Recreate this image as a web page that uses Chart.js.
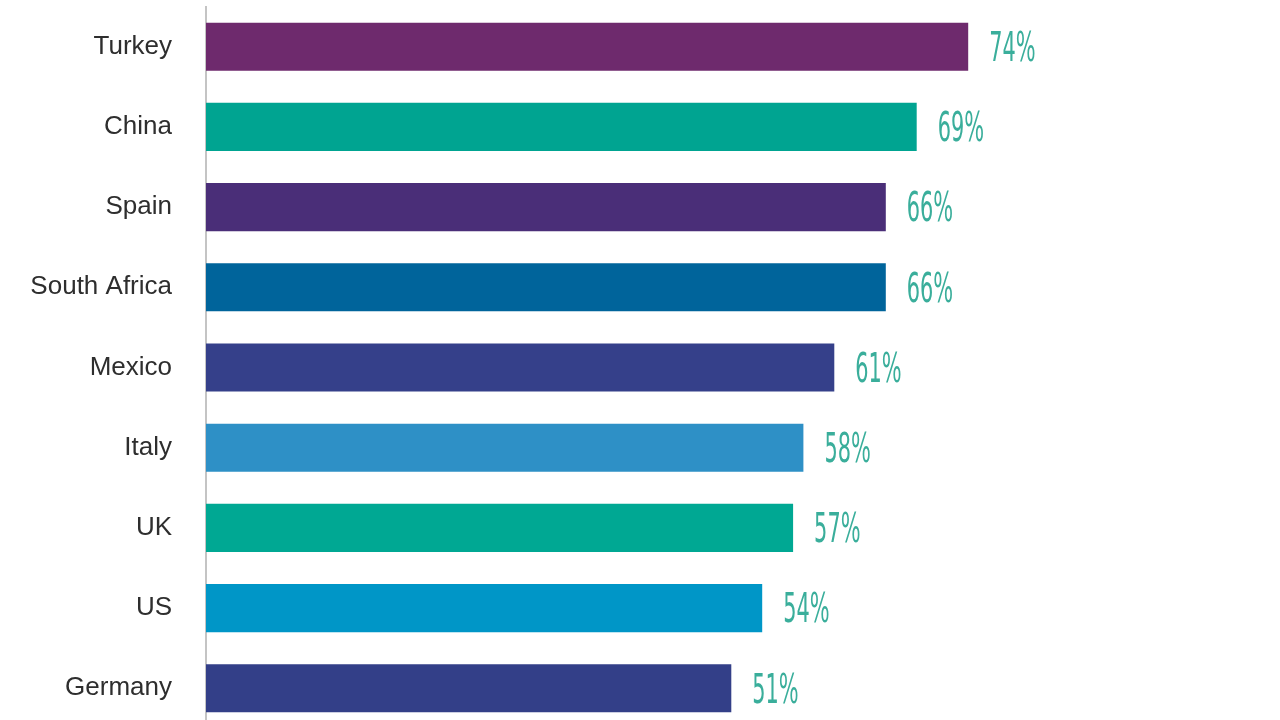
<!DOCTYPE html>
<html>
<head>
<meta charset="utf-8">
<script src="https://cdn.jsdelivr.net/npm/chart.js@4/dist/chart.umd.min.js"></script>
<style>
  html, body { margin: 0; padding: 0; background: #fff; overflow: hidden; }
  #wrap { width: 1280px; height: 720px; overflow: hidden; }
  #barChart { display: block; margin-top: -43px; }
</style>
</head>
<body>
<div id="wrap"><canvas id="barChart" width="1280" height="821"></canvas></div>
<script>
// Data
const countries = ['Turkey', 'China', 'Spain', 'South Africa', 'Mexico', 'Italy', 'UK', 'US', 'Germany'];
const shares = [74, 69, 66, 66, 61, 58, 57, 54, 51];
const barColors = ['#6e2a6d', '#00a491', '#4a2e78', '#00649b', '#35408a', '#2e90c6', '#00a893', '#0096c7', '#333f88'];

// Draws the "74%" style labels right of each bar
const valueLabels = {
  id: 'valueLabels',
  afterDatasetsDraw(chart) {
    const ctx = chart.ctx;
    const meta = chart.getDatasetMeta(0);
    ctx.save();
    ctx.fillStyle = '#3aae9b';
    ctx.font = '300 40px "Liberation Sans Narrow", "DejaVu Sans Condensed", sans-serif';
    ctx.textBaseline = 'middle';
    meta.data.forEach((bar, i) => {
      ctx.save();
      ctx.translate(bar.x + 21, bar.y + 4);
      ctx.scale(0.58, 1);
      ctx.fillText(shares[i] + '%', 0, 0);
      ctx.restore();
    });
    ctx.restore();
  }
};

new Chart(document.getElementById('barChart').getContext('2d'), {
  type: 'bar',
  data: {
    labels: countries,
    datasets: [{
      data: shares,
      backgroundColor: barColors,
      borderWidth: 0,
      barPercentage: 0.6,
      categoryPercentage: 1
    }]
  },
  plugins: [valueLabels],
  options: {
    indexAxis: 'y',
    responsive: false,
    animation: false,
    layout: { padding: { top: 6, bottom: 4, right: 44, left: 0 } },
    plugins: { legend: { display: false }, tooltip: { enabled: false } },
    scales: {
      x: { display: false, min: 0, max: 100 },
      y: {
        afterFit(scale) { scale.width = 206; },
        grid: { display: false, drawTicks: false },
        border: { display: true, color: '#c4c4c4', width: 2 },
        ticks: {
          padding: 34,
          color: '#2e2e2e',
          font: { family: '"Liberation Sans", Arial, sans-serif', size: 26 }
        }
      }
    }
  }
});
</script>
</body>
</html>
